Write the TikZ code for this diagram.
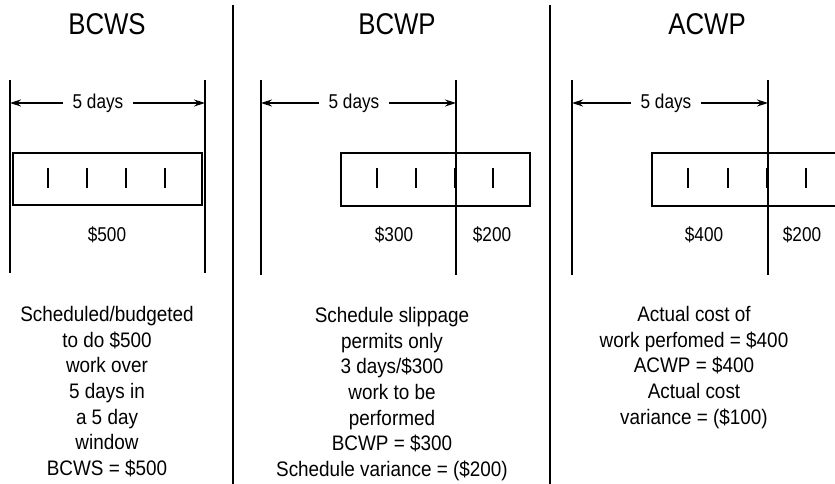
\documentclass[tikz,border=0pt]{standalone}
\usepackage{fontspec}
\setmainfont{Liberation Sans}[FakeStretch=0.86]
\newfontfamily\notefont{Liberation Sans}[FakeStretch=0.9]
\usetikzlibrary{arrows.meta}

\begin{document}
\begin{tikzpicture}[x=1pt, y=-1pt, >={Stealth[length=11pt, width=7pt]},
    every node/.style={font=\fontsize{20}{24}\selectfont, inner sep=2pt},
    title/.style={font=\fontsize{30}{36}\selectfont},
    daylabel/.style={inner xsep=9pt},
    note/.style={align=center, anchor=north, font=\notefont\fontsize{21}{25.7}\selectfont},
    bar/.style={line width=1.8pt},
    tick/.style={line width=1.2pt},
    marker/.style={line width=1.2pt}]
    \useasboundingbox (0,0) rectangle (835,484);

    % Panel separators
    \draw [marker] (233,5) -- (233,484);
    \draw [marker] (550,5) -- (550,484);

    % BCWS: planned window
    \node [title] (tbcws) at (107,24) {BCWS};
    \draw [marker] (10,80) -- (10,273);
    \draw [marker] (205,80) -- (205,273);
    \coordinate (lbcws) at (10,103);
    \coordinate (rbcws) at (205,103);
    \node [daylabel] (dbcws) at (98,103) {5 days};
    \draw [marker, ->] (dbcws.west) -- (lbcws);
    \draw [marker, ->] (dbcws.east) -- (rbcws);
    \draw [bar] (13,153) rectangle (202,205);
    \foreach \x in {48,87,126,165}
        \draw [tick] (\x,168) -- (\x,188);
    \node (vbcws) at (107,235) {\$500};
    \node [note] (nbcws) at (107,304) {Scheduled/budgeted\\to do \$500\\work over\\5 days in\\a 5 day\\window\\BCWS = \$500};

    % BCWP: slipped work
    \node [title] (tbcwp) at (397,24) {BCWP};
    \draw [marker] (261,80) -- (261,275);
    \draw [marker] (456,80) -- (456,275);
    \coordinate (lbcwp) at (261,103);
    \coordinate (rbcwp) at (456,103);
    \node [daylabel] (dbcwp) at (354,103) {5 days};
    \draw [marker, ->] (dbcwp.west) -- (lbcwp);
    \draw [marker, ->] (dbcwp.east) -- (rbcwp);
    \draw [bar] (341,153) rectangle (530,206);
    \foreach \x in {377,416,455,493}
        \draw [tick] (\x,168) -- (\x,188);
    \node (abcwp) at (394,235) {\$300};
    \node (bbcwp) at (492,235) {\$200};
    \node [note] (nbcwp) at (392,305) {Schedule slippage\\permits only\\3 days/\$300\\work to be\\performed\\BCWP = \$300\\Schedule variance = (\$200)};

    % ACWP: actual cost
    \node [title] (tacwp) at (707,24) {ACWP};
    \draw [marker] (572,80) -- (572,275);
    \draw [marker] (768,80) -- (768,275);
    \coordinate (lacwp) at (572,103);
    \coordinate (racwp) at (768,103);
    \node [daylabel] (dacwp) at (666,103) {5 days};
    \draw [marker, ->] (dacwp.west) -- (lacwp);
    \draw [marker, ->] (dacwp.east) -- (racwp);
    \draw [bar] (652,153) rectangle (841,206);
    \foreach \x in {688,728,767,806}
        \draw [tick] (\x,168) -- (\x,188);
    \node (aacwp) at (704,235) {\$400};
    \node (bacwp) at (802,235) {\$200};
    \node [note] (nacwp) at (694,304) {Actual cost of\\work perfomed = \$400\\ACWP = \$400\\Actual cost\\variance = (\$100)};
\end{tikzpicture}
\end{document}
